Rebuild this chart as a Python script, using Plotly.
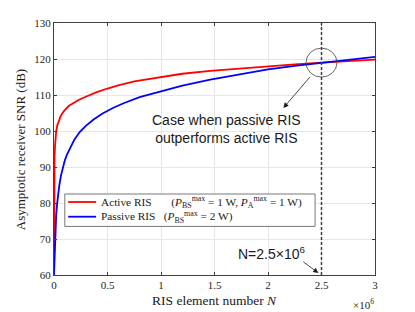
import plotly.graph_objects as go

# RIS element number N (in units of 10^6)
n_active = [0.0, 0.001, 0.003, 0.005, 0.01, 0.015, 0.02, 0.03, 0.045, 0.06, 0.08, 0.1, 0.14,
            0.18, 0.23, 0.28, 0.34, 0.4, 0.5, 0.6, 0.75, 0.9, 1.0, 1.2, 1.46, 1.75, 2.0, 2.25,
            2.5, 2.75, 3.0]
snr_active = [60.0, 85.0, 90.0, 93.0, 96.0, 98.3, 99.8, 101.5, 103.0, 104.0, 105.0, 105.8, 107.0,
              107.8, 108.6, 109.3, 110.1, 110.8, 111.8, 112.7, 113.8, 114.5, 115.0, 115.9, 116.7,
              117.4, 117.95, 118.5, 119.0, 119.4, 119.8]

n_passive = [0.0, 0.002, 0.005, 0.01, 0.02, 0.03, 0.04, 0.05, 0.065, 0.08, 0.1,
             0.12, 0.15, 0.19, 0.24, 0.3, 0.37, 0.45, 0.55, 0.65, 0.8, 1.0, 1.2, 1.46, 1.75,
             2.0, 2.25, 2.5, 2.75, 3.0]
snr_passive = [60.0, 61.5, 65.5, 70.5, 76.5, 80.0, 82.8, 85.0, 87.6, 89.6, 91.7,
               93.4, 95.4, 97.6, 99.7, 101.5, 103.2, 104.8, 106.4, 107.7, 109.4, 111.1, 112.6,
               114.3, 115.9, 117.1, 118.1, 119.0, 119.8, 120.6]

x_ticks = [0, 0.5, 1, 1.5, 2, 2.5, 3]
x_tick_labels = ["0", "0.5", "1", "1.5", "2", "2.5", "3"]
y_ticks = [60, 70, 80, 90, 100, 110, 120, 130]

NB = "\u00a0"
legend_lines = [
    "Active RIS" + NB * 7 + "(<i>P</i><sub>BS</sub><sup>max</sup> = 1 W, <i>P</i><sub>A</sub><sup>max</sup> = 1 W)",
    "Passive RIS" + NB * 3 + "(<i>P</i><sub>BS</sub><sup>max</sup> = 2 W)",
]
colors = ["#ff0000", "#0000ff"]

cross_n = 2.5
cross_snr = 119.0

serif = "Liberation Serif"
sans = "Liberation Sans"
axcol = "#404040"

# plot-area geometry in pixels
L, R, T, B = 53.5, 375.0, 23.3, 275.3
W, H = R - L, B - T


def px(xp):
    return (xp - L) / W


def py(yp):
    return (B - yp) / H


fig = go.Figure()
fig.add_trace(go.Scatter(x=n_active, y=snr_active, mode="lines",
                         line=dict(color=colors[0], width=1.8), showlegend=False,
                         hoverinfo="skip"))
fig.add_trace(go.Scatter(x=n_passive, y=snr_passive, mode="lines",
                         line=dict(color=colors[1], width=1.8), showlegend=False,
                         hoverinfo="skip"))

axis_common = dict(showline=True, linecolor=axcol, linewidth=1, mirror="ticks",
                   ticks="inside", ticklen=3, tickcolor=axcol, showgrid=True,
                   gridcolor="#e6e6e6", gridwidth=1, zeroline=False,
                   tickfont=dict(family=serif, size=11, color="#262626"))

fig.update_layout(
    width=415, height=312,
    margin=dict(l=L, r=415 - R, t=T, b=312 - B),
    paper_bgcolor="white", plot_bgcolor="white",
    showlegend=False,
    xaxis=dict(range=[0, 3], tickvals=x_ticks, ticktext=x_tick_labels, **axis_common),
    yaxis=dict(range=[60, 130], tickvals=y_ticks, **axis_common),
)

# vertical dashed line at N = 2.5e6
fig.add_shape(type="line", x0=cross_n, x1=cross_n, y0=60, y1=130, xref="x", yref="y",
              line=dict(color=axcol, width=1.5, dash="3px,2px"))
# circle around crossing point
fig.add_shape(type="circle", xref="x", yref="y", xsizemode="pixel", ysizemode="pixel",
              xanchor=cross_n, yanchor=cross_snr, x0=-15.5, x1=15.5, y0=-14.5, y1=14.5,
              line=dict(color=axcol, width=0.8))

# legend (drawn manually)
fig.add_shape(type="rect", xref="paper", yref="paper", x0=px(64.3), x1=px(315),
              y0=py(226.7), y1=py(194.3), fillcolor="white",
              line=dict(color="#555555", width=0.8), layer="above")
row_y = [202.3, 217.0]
for i in range(2):
    fig.add_shape(type="line", xref="paper", yref="paper", x0=px(67.7), x1=px(95.7),
                  y0=py(row_y[i]), y1=py(row_y[i]), line=dict(color=colors[i], width=1.8),
                  layer="above")
fig.add_annotation(text="<br>".join(legend_lines), x=px(98.8), y=py(209.8), xref="paper",
                   yref="paper", xanchor="left", yanchor="middle", align="left",
                   showarrow=False, font=dict(family=serif, size=11.3, color="#1a1a1a"))

# arrow from circle to text
fig.add_annotation(x=2.144, y=106.4, xref="x", yref="y", ax=27.7, ay=-32.3,
                   showarrow=True, arrowhead=2, arrowsize=1.3, arrowwidth=0.8,
                   arrowcolor="#1a1a1a", text="")
fig.add_annotation(text="Case when passive RIS<br>outperforms active RIS",
                   x=px(226), y=py(129), xref="paper", yref="paper",
                   xanchor="center", yanchor="middle", showarrow=False,
                   font=dict(family=sans, size=14, color="#1a1a1a"))

# N = 2.5e6 label and arrow
fig.add_annotation(text="N=2.5\u00d710<sup>6</sup>", x=px(272), y=py(253),
                   xref="paper", yref="paper", xanchor="center", yanchor="middle",
                   showarrow=False, font=dict(family=sans, size=14, color="#1a1a1a"))
fig.add_annotation(x=2.471, y=60.55, xref="x", yref="y", ax=-16.6, ay=-12.3,
                   showarrow=True, arrowhead=2, arrowsize=1.3, arrowwidth=0.8,
                   arrowcolor="#1a1a1a", text="")

# axis titles and exponent
fig.add_annotation(text="Asymptotic receiver SNR (dB)", x=px(20), y=py(150),
                   xref="paper", yref="paper", showarrow=False, textangle=-90,
                   xanchor="center", yanchor="middle",
                   font=dict(family=serif, size=13, color="#1a1a1a"))
fig.add_annotation(text="RIS element number <i>N</i>", x=px(214), y=py(301),
                   xref="paper", yref="paper", showarrow=False,
                   xanchor="center", yanchor="middle",
                   font=dict(family=serif, size=13.5, color="#1a1a1a"))
fig.add_annotation(text="\u00d710<sup>6</sup>", x=px(376), y=py(304),
                   xref="paper", yref="paper", showarrow=False,
                   xanchor="right", yanchor="middle",
                   font=dict(family=serif, size=11, color="#262626"))

fig.write_html("out.html", config={"displayModeBar": False},
               post_script="document.body.style.margin='0';")
